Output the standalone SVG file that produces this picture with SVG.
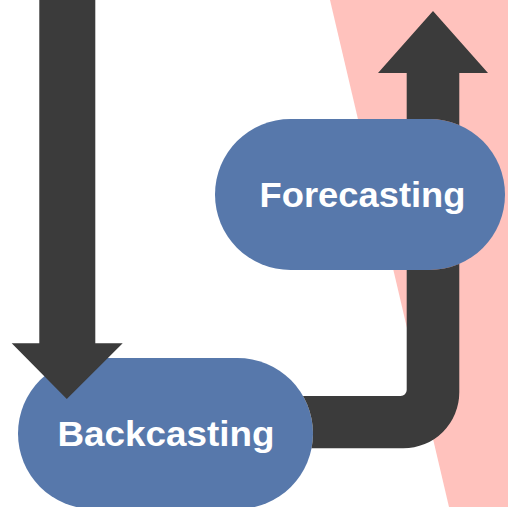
<svg xmlns="http://www.w3.org/2000/svg" width="508" height="507" viewBox="0 0 508 507">
  <style>
    .band { fill: #FFC2BD; }
    .pill { fill: #5778AB; }
    .label { fill: #FFFFFF; font-family: "Liberation Sans", Arial, sans-serif; font-weight: bold; font-size: 35px; text-anchor: middle; }
    .flow { fill: #3B3B3B; }
  </style>
  <defs>
    <!-- everything except the two pill shapes, so the return path tucks under them -->
    <clipPath id="outsideNodes">
      <path clip-rule="evenodd" d="M0 0H508V507H0Z
        M290.5 119H429.5A75.5 75.5 0 0 1 429.5 270H290.5A75.5 75.5 0 0 1 290.5 119Z
        M93.5 358H237.5A75.5 75.5 0 0 1 237.5 509H93.5A75.5 75.5 0 0 1 93.5 358Z"/>
    </clipPath>
  </defs>

  <!-- slanted background band -->
  <polygon class="band" points="330,0 508,0 508,507 449,507"/>

  <g id="node-forecasting">
    <rect class="pill" x="215" y="119" width="290" height="151" rx="75.5" ry="75.5"/>
    <text class="label" x="362.5" y="206.5" textLength="206" lengthAdjust="spacingAndGlyphs">Forecasting</text>
  </g>

  <g id="node-backcasting">
    <rect class="pill" x="18" y="358" width="295" height="151" rx="75.5" ry="75.5"/>
    <text class="label" x="166" y="446" textLength="217" lengthAdjust="spacingAndGlyphs">Backcasting</text>
  </g>

  <g id="connectors">
    <!-- block arrow coming down into Backcasting -->
    <path class="flow" d="M39.3 -2H95.3V343.3H122.7L66.8 399L11.7 343.3H39.3Z"/>
    <!-- path from Backcasting round the corner, through Forecasting and up -->
    <path class="flow" clip-path="url(#outsideNodes)"
      d="M433 11L488 73H459.3V392.3A56 56 0 0 1 403.3 448.3H240V396H400.7A6 6 0 0 0 406.7 390V73H378Z"/>
  </g>
</svg>
